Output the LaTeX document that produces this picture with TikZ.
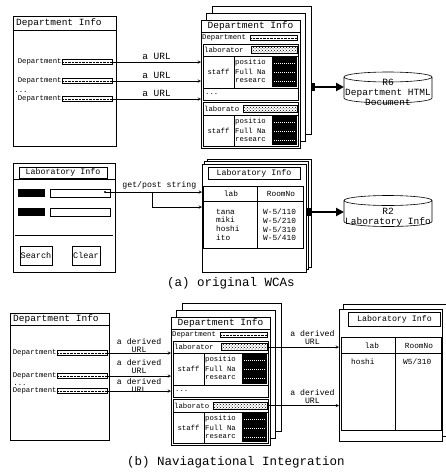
\documentclass[tikz,border=0pt]{standalone}
\usepackage{fontspec}
\setmonofont{Liberation Mono}
\usetikzlibrary{shapes.geometric, arrows, arrows.meta, positioning, patterns, calc}
\tikzstyle{pagebox} = [draw, fill=white, line width=0.6pt, inner sep=0pt, outer sep=0pt, anchor=north west]
\tikzstyle{backpage} = [draw, fill=white, line width=0.6pt]
\tikzstyle{titletext} = [font=\ttfamily\fontsize{9.5}{10}\selectfont, inner sep=0pt]
\tikzstyle{rowtext} = [font=\ttfamily\fontsize{7.3}{8}\selectfont, inner sep=0pt]
\tikzstyle{celltext} = [font=\ttfamily\fontsize{7.8}{8.6}\selectfont, inner sep=0pt]
\tikzstyle{labeltext} = [font=\ttfamily\fontsize{8.2}{8}\selectfont, inner sep=0pt, align=center]
\tikzstyle{captext} = [font=\ttfamily\fontsize{12.5}{13}\selectfont, inner sep=0pt]
\tikzstyle{dotfield} = [draw, rectangle, minimum width=50pt, minimum height=5pt, inner sep=0pt, path picture={\draw[densely dotted] (path picture bounding box.west) -- (path picture bounding box.east);}]
\tikzstyle{hatchfield} = [draw, rectangle, pattern=crosshatch dots, inner sep=0pt, minimum height=7pt]
\tikzstyle{titlebox} = [draw, rectangle, inner sep=0pt, font=\ttfamily\fontsize{8.3}{9}\selectfont]
\tikzstyle{blackkey} = [fill=black, rectangle, minimum width=27pt, minimum height=8pt, inner sep=0pt]
\tikzstyle{field} = [draw, rectangle, minimum width=60pt, minimum height=8pt, inner sep=0pt]
\tikzstyle{button} = [draw, rectangle, line width=0.8pt, minimum height=19pt, inner sep=0pt, font=\ttfamily\fontsize{8.5}{9}\selectfont]
\tikzstyle{sq} = [fill=black, rectangle, minimum width=4pt, minimum height=8pt, inner sep=0pt]
\tikzstyle{dbbody} = [rectangle, minimum width=88pt, minimum height=31pt, inner sep=0pt, outer sep=0pt]
\tikzstyle{dbtext} = [font=\ttfamily\fontsize{9.5}{10}\selectfont, inner sep=0pt, align=center]
\tikzstyle{urlarrow} = [->, >=stealth, line width=0.5pt]
\tikzstyle{bigarrow} = [-{Triangle[length=8pt,width=8pt]}, line width=2.6pt]

% database drum: name, centre
\newcommand{\database}[2]{%
  \node[dbbody] (#1) at #2 {};
  \draw[line width=0.6pt] ($(#1.north west)+(0,5)$) -- ($(#1.south west)+(0,-5)$)
    arc[start angle=180, end angle=0, x radius=44, y radius=5] -- ($(#1.north east)+(0,5)$);
  \draw[line width=0.6pt] ($(#1.north)+(0,5)$) ellipse [x radius=44, y radius=5];}

% department page with two more pages behind it
\newcommand{\deptstack}[2]{%
  \begin{scope}[shift={#2}]
    \draw[backpage] (11,-14) rectangle ++(99,128);
    \draw[backpage] (5,-7) rectangle ++(99,128);
    \node[pagebox, minimum width=99pt, minimum height=128pt] (#1) at (0,0) {};
    \node[titletext] at (49.5,6) {Department Info};
    \draw (0,12) -- (99,12);
    \node[rowtext, anchor=west] at (1,18) {Department};
    \node[dotfield, minimum width=47pt] at (72.5,18) {};
    \draw (2,24) rectangle (97,36);
    \node[rowtext, anchor=west] at (3,30) {laborator};
    \node[hatchfield, minimum width=46pt] (#1-lab1) at (73,30) {};
    \draw (2,36) rectangle (97,68);
    \draw (33,36) -- (33,68);
    \node[rowtext] at (17.5,52) {staff};
    \node[rowtext, anchor=west] at (34,43) {positio};
    \node[rowtext, anchor=west] at (34,52) {Full Na};
    \node[rowtext, anchor=west] at (34,61) {researc};
    \fill (71,37) rectangle (96,67);
    \draw (2,68) rectangle (97,80);
    \node[rowtext, anchor=west] at (4,74) {...};
    \draw (2,82) rectangle (97,95);
    \node[rowtext, anchor=west] at (3,88.5) {laborato};
    \node[hatchfield, minimum width=54pt] (#1-lab2) at (69,88.5) {};
    \draw (2,95) rectangle (97,126);
    \draw (33,95) -- (33,126);
    \node[rowtext] at (17.5,110.5) {staff};
    \node[rowtext, anchor=west] at (34,102) {positio};
    \node[rowtext, anchor=west] at (34,111) {Full Na};
    \node[rowtext, anchor=west] at (34,120) {researc};
    \fill (71,96) rectangle (96,125);
    \foreach \y in {43,52,61,102,111,120}
      \draw[white, densely dotted, line width=1pt] (73,\y) -- (94,\y);
  \end{scope}}

\begin{document}
\begin{tikzpicture}[x=1pt, y=-1pt]
\useasboundingbox (0,0) rectangle (446,472);

% (a) department form and its pages
\node[pagebox, minimum width=103pt, minimum height=130pt] (deptA) at (13,16) {};
\node[titletext, anchor=west] at (16,23) {Department Info};
\draw (13,30) -- (116,30);
\foreach \n/\y in {1/62, 2/81, 3/99} {
  \node[dotfield] (da\n) at (87,\y) {};
  \node[rowtext, anchor=east] at (da\n.west) {Department};
}
\node[rowtext] at (21,92) {...};

\deptstack{wa}{(201,20)}
\foreach \n in {1,2,3}
  \draw[urlarrow] (da\n.east) -- (da\n -| wa.west) node[midway, above=2pt, labeltext, font=\ttfamily\fontsize{9.5}{10}\selectfont] {a URL};

\node[sq] (sqa) at (313,87) {};
\database{r6}{(388,87.5)}
\node[dbtext] at (388,92) {R6\\Department HTML\\Document};
\draw[bigarrow] (sqa) -- (r6.west |- sqa);

% (a) laboratory form and result
\node[pagebox, minimum width=102pt, minimum height=109pt] (labform) at (13,163) {};
\node[titlebox, minimum width=88pt, minimum height=11pt] (labtitle) at (63,172.5) {Laboratory Info};
\draw (13,179) -- (115,179);
\node[blackkey] (k1) at (31.5,193) {};
\node[field] (f1) at (80,193) {};
\node[blackkey] (k2) at (31.5,212) {};
\node[field] (f2) at (80,212) {};
\draw (15,235) -- (113,235);
\node[button, minimum width=32pt] (search) at (36,255.5) {Search};
\node[button, minimum width=28pt] (clear) at (86,255.5) {Clear};

\draw[backpage] (207,159) rectangle ++(104,108);
\draw[backpage] (204.5,161.5) rectangle ++(104,108);
\node[pagebox, minimum width=104pt, minimum height=108pt] (lt) at (202,164) {};
\node[titlebox, minimum width=92pt, minimum height=12pt] (lttitle) at (254,173) {Laboratory Info};
\node[pagebox, minimum width=100pt, minimum height=62pt] (ltab) at (203.5,186) {};
\draw (203.5,201) -- (303.5,201);
\draw (257,186) -- (257,248);
\node[celltext] at (231,193.5) {lab};
\node[celltext] at (281,193.5) {RoomNo};
\node[celltext, anchor=north west, align=left] at (216,209) {tana\\miki\\hoshi\\ito};
\node[celltext, anchor=north west, align=left] at (263,209) {W-5/110\\W-5/210\\W-5/310\\W-5/410};

\coordinate (gp) at (105,192);
\coordinate (gpb) at (152,192);
\coordinate (gpend) at (202,207);
\fill (gp) circle (1.2pt);
\draw[urlarrow] (gp) -- (gp -| lt.west) node[pos=0.56, above=3pt, labeltext] {get/post string};
\draw[urlarrow] (gpb) |- (gpend);

\node[sq] (sqb) at (309,212) {};
\database{r2}{(388,211)}
\node[dbtext] at (388,217) {R2\\Laboratory Info};
\draw[bigarrow] (sqb) -- (r2.west |- sqb);

\node[captext] at (231,283) {(a) original WCAs};

% (b) navigational integration
\node[pagebox, minimum width=99pt, minimum height=127pt] (deptB) at (10,313) {};
\node[titletext, anchor=west] at (13,319.5) {Department Info};
\draw (10,325) -- (109,325);
\foreach \n/\y in {1/353, 2/376, 3/391} {
  \node[dotfield] (db\n) at (82,\y) {};
  \node[rowtext, anchor=east] at (db\n.west) {Department};
}
\node[rowtext] at (20,385) {...};

\deptstack{wb}{(171,317)}
\foreach \n/\s in {1/0.5, 2/2.5, 3/-1.5}
  \draw[urlarrow] (db\n.east) -- (db\n -| wb.west) node[midway, anchor=south, yshift=\s pt, labeltext] {a derived\\URL};

\draw[backpage] (343,304) rectangle ++(103,132);
\node[pagebox, minimum width=103pt, minimum height=132pt] (lr) at (339,309) {};
\node[titlebox, minimum width=92pt, minimum height=14pt] (lrtitle) at (394.5,319.5) {Laboratory Info};
\node[pagebox, minimum width=100pt, minimum height=93pt] (lrtab) at (341,337) {};
\draw (341,353) -- (441,353);
\draw (395,337) -- (395,430);
\node[celltext] at (372,345.5) {lab};
\node[celltext] at (419,345.5) {RoomNo};
\node[celltext, anchor=west] at (351,362) {hoshi};
\node[celltext, anchor=west] at (403,362) {W5/310};

\draw[urlarrow] (wb-lab1.east) -- (wb-lab1 -| lr.west) node[pos=0.63, above=2pt, labeltext] {a derived\\URL};
\draw[urlarrow] (wb-lab2.east) -- (wb-lab2 -| lr.west) node[pos=0.63, above=2pt, labeltext] {a derived\\URL};

\node[captext] at (236,462) {(b) Naviagational Integration};
\end{tikzpicture}
\end{document}
